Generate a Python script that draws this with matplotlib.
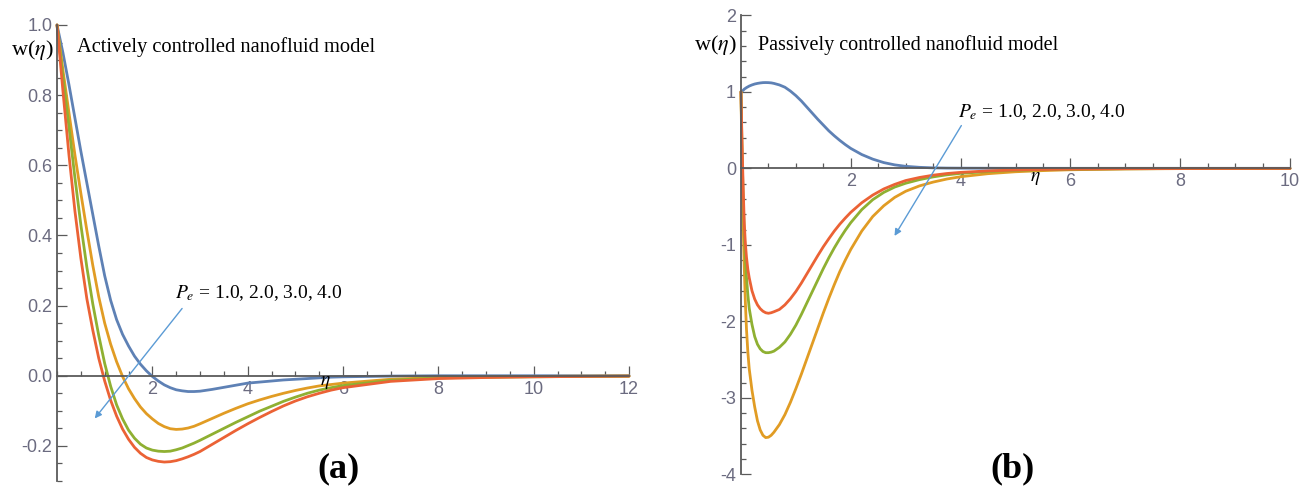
import matplotlib
matplotlib.use("Agg")
import matplotlib.pyplot as plt
from matplotlib.ticker import MultipleLocator, FormatStrFormatter

plt.rcParams['font.family'] = ['Liberation Serif', 'DejaVu Serif']
plt.rcParams['mathtext.fontset'] = 'stix'
plt.rcParams['axes.unicode_minus'] = False

# one curve per Pe value: 1.0, 2.0, 3.0, 4.0
colors = ['#5e81b5', '#e19c24', '#8fb032', '#eb6235']

# (a) actively controlled nanofluid model
eta_a = [0, 0.125, 0.25, 0.375, 0.5, 0.625, 0.75, 0.875, 1.0, 1.125, 1.25, 1.375, 1.5,
         1.625, 1.75, 1.875, 2.0, 2.125, 2.25, 2.375, 2.5, 2.625, 2.75, 2.875, 3.0,
         3.25, 3.5, 3.75, 4.0, 4.25, 4.5, 4.75, 5.0, 5.25, 5.5, 5.75, 6.0,
         7.0, 8.0, 9.0, 10.0, 11.0, 12.0]
w_a_pe1 = [1.0, 0.92, 0.83, 0.735, 0.64, 0.55, 0.46, 0.37, 0.285, 0.215, 0.16, 0.118, 0.085,
           0.056, 0.033, 0.014, -0.002, -0.015, -0.026, -0.034, -0.040, -0.043, -0.045, -0.045, -0.044,
           -0.039, -0.033, -0.027, -0.021, -0.018, -0.015, -0.012, -0.010, -0.008, -0.006, -0.004, -0.003,
           -0.001, 0, 0, 0, 0, 0]
w_a_pe2 = [1.0, 0.87, 0.75, 0.63, 0.52, 0.415, 0.315, 0.225, 0.15, 0.09, 0.04, -0.002, -0.037,
           -0.065, -0.089, -0.108, -0.123, -0.136, -0.145, -0.151, -0.153, -0.152, -0.149, -0.144, -0.137,
           -0.122, -0.107, -0.093, -0.080, -0.069, -0.059, -0.050, -0.042, -0.035, -0.029, -0.025, -0.021,
           -0.010, -0.005, -0.003, -0.002, -0.001, -0.001]
w_a_pe3 = [1.0, 0.85, 0.71, 0.565, 0.43, 0.31, 0.205, 0.115, 0.035, -0.03, -0.083, -0.123, -0.155,
           -0.178, -0.195, -0.206, -0.212, -0.215, -0.216, -0.215, -0.211, -0.206, -0.199, -0.192, -0.184,
           -0.167, -0.150, -0.133, -0.117, -0.101, -0.087, -0.073, -0.061, -0.050, -0.041, -0.034, -0.028,
           -0.013, -0.006, -0.004, -0.003, -0.002, -0.001]
w_a_pe4 = [1.0, 0.81, 0.63, 0.47, 0.335, 0.22, 0.13, 0.05, -0.015, -0.07, -0.115, -0.152, -0.181,
           -0.204, -0.221, -0.233, -0.240, -0.244, -0.246, -0.245, -0.242, -0.237, -0.231, -0.224, -0.216,
           -0.196, -0.176, -0.156, -0.137, -0.119, -0.102, -0.086, -0.072, -0.060, -0.050, -0.041, -0.034,
           -0.016, -0.008, -0.005, -0.003, -0.002, -0.001]

# (b) passively controlled nanofluid model
eta_b = [0, 0.02, 0.04, 0.06, 0.08, 0.1, 0.125, 0.15, 0.2, 0.25, 0.3, 0.35, 0.4, 0.45, 0.5, 0.55,
         0.6, 0.7, 0.8, 0.9, 1.0, 1.1, 1.2, 1.3, 1.4, 1.5, 1.6, 1.7, 1.8, 1.9, 2.0,
         2.2, 2.4, 2.6, 2.8, 3.0, 3.25, 3.5, 3.75, 4.0, 4.5, 5.0, 5.5, 6.0, 7.0, 8.0, 9.0, 10.0]
w_b_pe1 = [1.0, 1.01, 1.02, 1.035, 1.045, 1.055, 1.065, 1.075, 1.09, 1.102, 1.11, 1.116, 1.12, 1.121, 1.12, 1.117,
           1.11, 1.09, 1.06, 1.01, 0.95, 0.88, 0.80, 0.72, 0.64, 0.565, 0.49, 0.425, 0.365, 0.31, 0.26,
           0.18, 0.12, 0.075, 0.045, 0.026, 0.013, 0.006, 0.003, 0.002, 0.001, 0, 0, 0, 0, 0, 0, 0]
w_b_pe2 = [1.0, 0.0, -0.75, -1.3, -1.75, -2.1, -2.4, -2.62, -2.9, -3.12, -3.3, -3.42, -3.49, -3.52, -3.515, -3.49,
           -3.45, -3.35, -3.22, -3.06, -2.88, -2.69, -2.49, -2.29, -2.09, -1.89, -1.70, -1.52, -1.35, -1.20, -1.06,
           -0.82, -0.63, -0.49, -0.38, -0.30, -0.23, -0.18, -0.14, -0.11, -0.07, -0.045, -0.03, -0.019, -0.008,
           -0.004, -0.002, -0.001]
w_b_pe3 = [1.0, 0.2, -0.4, -0.85, -1.17, -1.42, -1.65, -1.83, -2.04, -2.2, -2.3, -2.36, -2.395, -2.41, -2.41, -2.403,
           -2.39, -2.34, -2.27, -2.17, -2.05, -1.91, -1.76, -1.61, -1.46, -1.31, -1.17, -1.04, -0.92, -0.81, -0.71,
           -0.54, -0.41, -0.315, -0.245, -0.195, -0.148, -0.112, -0.085, -0.066, -0.042, -0.027, -0.018, -0.012,
           -0.006, -0.003, -0.002, -0.001]
w_b_pe4 = [1.0, 0.3, -0.25, -0.72, -0.98, -1.16, -1.32, -1.43, -1.6, -1.71, -1.785, -1.835, -1.868, -1.888, -1.895, -1.888,
           -1.875, -1.845, -1.785, -1.705, -1.61, -1.50, -1.38, -1.26, -1.14, -1.025, -0.92, -0.82, -0.73, -0.65, -0.575,
           -0.45, -0.35, -0.27, -0.21, -0.16, -0.12, -0.09, -0.068, -0.053, -0.034, -0.022, -0.015, -0.010,
           -0.005, -0.003, -0.002, -0.001]

axis_col = '#5a5a5a'
tick_col = '#6b6b80'
arrow_col = '#5b9bd5'

fig = plt.figure(figsize=(13.11, 4.91), dpi=100)
ax1 = fig.add_axes([0.0435, 0.0204, 0.4363, 0.9287])
ax2 = fig.add_axes([0.5652, 0.034, 0.4188, 0.9348])


def style_axes(ax):
    for s in ['top', 'right']:
        ax.spines[s].set_visible(False)
    ax.spines['bottom'].set_position(('data', 0))
    ax.spines['left'].set_position(('data', 0))
    for s in ['bottom', 'left']:
        ax.spines[s].set_color(axis_col)
        ax.spines[s].set_linewidth(1.3)
    ax.tick_params(which='both', direction='in', color=axis_col, width=0.9,
                   labelcolor=tick_col, labelsize=13)
    ax.tick_params(which='major', length=7)
    ax.tick_params(which='minor', length=3.5)
    for lab in ax.get_xticklabels() + ax.get_yticklabels():
        lab.set_family('Liberation Sans')
    ax.set_facecolor('none')


# panel (a)
for w, c in zip([w_a_pe1, w_a_pe2, w_a_pe3, w_a_pe4], colors):
    ax1.plot(eta_a, w, color=c, lw=2.0, solid_capstyle='round', solid_joinstyle='round', clip_on=False)
ax1.set_xlim(0, 12)
ax1.set_ylim(-0.3, 1.0)
ax1.set_xticks([2, 4, 6, 8, 10, 12])
ax1.xaxis.set_minor_locator(MultipleLocator(0.5))
ax1.set_yticks([-0.2, 0.0, 0.2, 0.4, 0.6, 0.8, 1.0])
ax1.yaxis.set_minor_locator(MultipleLocator(0.05))
ax1.yaxis.set_major_formatter(FormatStrFormatter('%.1f'))
style_axes(ax1)

ax1.text(0.42, 0.937, 'Actively controlled nanofluid model', fontsize=14.8, va='center', ha='left')
ax1.text(-0.08, 0.93, r'w($\eta$)', fontsize=16, va='center', ha='right')
ax1.text(2.47, 0.237, r'$P_e$ = 1.0, 2.0, 3.0, 4.0', fontsize=14, va='center', ha='left')
ax1.text(5.62, -0.02, r'$\eta$', fontsize=14, va='center', ha='center')
ax1.annotate('', xy=(0.755, -0.128), xytext=(2.66, 0.198),
             arrowprops=dict(arrowstyle='-|>', color=arrow_col, lw=1.0, mutation_scale=10))

# panel (b)
for w, c in zip([w_b_pe1, w_b_pe2, w_b_pe3, w_b_pe4], colors):
    ax2.plot(eta_b, w, color=c, lw=2.0, solid_capstyle='round', solid_joinstyle='round', clip_on=False)
ax2.set_xlim(0, 10)
ax2.set_ylim(-4, 2)
ax2.set_xticks([2, 4, 6, 8, 10])
ax2.xaxis.set_minor_locator(MultipleLocator(0.5))
ax2.set_yticks([-4, -3, -2, -1, 0, 1, 2])
ax2.yaxis.set_minor_locator(MultipleLocator(0.2))
style_axes(ax2)

ax2.text(0.31, 1.61, 'Passively controlled nanofluid model', fontsize=14.5, va='center', ha='left')
ax2.text(-0.09, 1.61, r'w($\eta$)', fontsize=16, va='center', ha='right')
ax2.text(3.95, 0.74, r'$P_e$ = 1.0, 2.0, 3.0, 4.0', fontsize=14, va='center', ha='left')
ax2.text(5.36, -0.13, r'$\eta$', fontsize=14, va='center', ha='center')
ax2.annotate('', xy=(2.77, -0.915), xytext=(4.04, 0.59),
             arrowprops=dict(arrowstyle='-|>', color=arrow_col, lw=1.0, mutation_scale=10))

fig.text(0.258, 0.045, '(a)', fontsize=26, fontweight='bold', ha='center', va='center')
fig.text(0.772, 0.045, '(b)', fontsize=26, fontweight='bold', ha='center', va='center')

fig.savefig('out.png', dpi=100)
